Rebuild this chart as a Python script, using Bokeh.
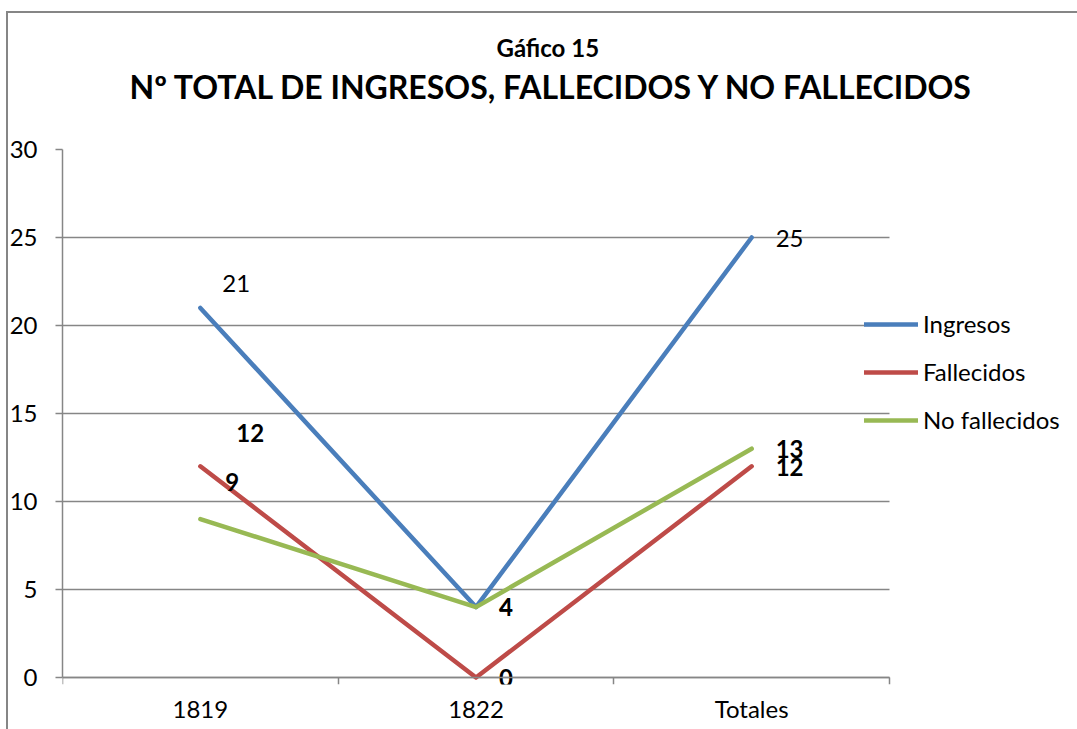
from bokeh.plotting import figure
from bokeh.models import (Range1d, LinearAxis, FixedTicker, ColumnDataSource, Legend,
                          LegendItem, Title)
from bokeh.core.properties import value
from bokeh.embed import file_html
from bokeh.resources import INLINE

# ---- data ----
categories = ["1819", "1822", "Totales"]
ingresos = [21, 4, 25]
fallecidos = [12, 0, 12]
no_fallecidos = [9, 4, 13]
series_names = ["Ingresos", "Fallecidos", "No fallecidos"]
y_ticks = [0, 5, 10, 15, 20, 25, 30]
y_max = 30
subtitle = "Gáfico 15"
main_title = "Nº TOTAL DE INGRESOS, FALLECIDOS Y NO FALLECIDOS"

# label offsets (styling, in px)
ing_dx = [22, 23, 24]
ing_dy = [-24, 0, 1]
fal_dx = [36, 23, 24]
fal_dy = [-33, 0, 1]
nof_dx = [25, 23, 24]
nof_dy = [-37, 0, 0]

FONT = "Lato"
GRAY = "#868686"
colors = ["#4A7EBB", "#BE4B48", "#98B954"]

# layout (pixels)
W, H = 1077, 729
AX_LEFT, AX_RIGHT, AX_TOP, AX_BOTTOM = 62, 889, 149, 677
BOTTOM_BORDER = 45

# category slots on a numeric axis: centre of slot i is i + 0.5
n = len(categories)
xs = [i + 0.5 for i in range(n)]
edges = list(range(n + 1))
# the drawing area runs on to the right edge (room for the legend) and a little
# below zero (room for the "0" label); the axes themselves stop at 0..n and 0..y_max
x_end = n * (W - AX_LEFT) / (AX_RIGHT - AX_LEFT)
px_per_unit = (AX_BOTTOM - AX_TOP) / y_max
y_start = -((H - BOTTOM_BORDER) - AX_BOTTOM) / px_per_unit

p = figure(width=W, height=H, output_backend="svg", toolbar_location=None,
           x_range=Range1d(0, x_end), y_range=Range1d(y_start, y_max),
           x_axis_location=None, y_axis_location=None,
           min_border_left=AX_LEFT, min_border_right=0, min_border_top=AX_TOP,
           min_border_bottom=BOTTOM_BORDER)
p.outline_line_color = None
p.background_fill_color = "white"
p.border_fill_alpha = 0
p.styles = {"box-shadow": f"inset 6px 11px 0 0 white, inset 8px 13px 0 0 {GRAY}",
            "background-color": "white"}
p.xgrid.visible = False

# x axis line + slot-boundary ticks, drawn at y = 0
x_line_axis = LinearAxis(ticker=FixedTicker(ticks=edges, minor_ticks=[]), bounds=(0, n),
                         fixed_location=0,
                         major_tick_in=0, major_tick_out=7, minor_tick_out=0,
                         axis_line_color=GRAY, axis_line_width=1.5,
                         major_tick_line_color=GRAY, major_tick_line_width=1.5,
                         major_label_standoff=0, major_label_text_font_size="0px",
                         major_label_text_color=None)
p.add_layout(x_line_axis, "below")

# category names under the slots
x_label_axis = LinearAxis(ticker=FixedTicker(ticks=xs, minor_ticks=[]),
                          major_label_overrides={x: c for x, c in zip(xs, categories)},
                          axis_line_color=None, major_tick_line_color=None,
                          major_tick_in=0, major_tick_out=0, minor_tick_out=0,
                          major_label_standoff=9,
                          major_label_text_font=FONT, major_label_text_font_size="24px",
                          major_label_text_color="black")
p.add_layout(x_label_axis, "below")

y_axis = LinearAxis(ticker=FixedTicker(ticks=y_ticks, minor_ticks=[]), bounds=(0, y_max),
                    major_tick_in=0, major_tick_out=7, minor_tick_out=0,
                    axis_line_color=GRAY, axis_line_width=1.5,
                    major_tick_line_color=GRAY, major_tick_line_width=1.5,
                    major_label_standoff=18,
                    major_label_text_font=FONT, major_label_text_font_size="24px",
                    major_label_text_color="black")
p.add_layout(y_axis, "left")

# horizontal grid lines limited to the category slots
grid_done = False
try:
    p.ygrid.ticker = FixedTicker(ticks=y_ticks)
    p.ygrid.grid_line_color = GRAY
    p.ygrid.grid_line_width = 1.5
    p.ygrid.cross_bounds = (0, n)
    grid_done = True
except Exception:
    grid_done = False
if not grid_done:
    p.ygrid.visible = False
    p.segment(x0=[0] * len(y_ticks), x1=[n] * len(y_ticks), y0=y_ticks, y1=y_ticks,
              line_color=GRAY, line_width=1.5, level="underlay")

# lines
all_series = [ingresos, fallecidos, no_fallecidos]
renderers = []
for vals, col in zip(all_series, colors):
    r = p.line(x=xs, y=vals, line_color=col, line_width=4.5,
               line_join="round", line_cap="round")
    renderers.append(r)

# data labels
def add_labels(vals, dx, dy, style):
    src = ColumnDataSource(dict(x=xs, y=vals, t=[str(v) for v in vals], dx=dx, dy=dy))
    p.text(x="x", y="y", text="t", x_offset="dx", y_offset="dy", source=src,
           text_font=value(FONT), text_font_size="24px", text_font_style=style,
           text_align="left", text_baseline="middle", text_color="black")

add_labels(ingresos, ing_dx, ing_dy, "normal")
add_labels(fallecidos, fal_dx, fal_dy, "bold")
add_labels(no_fallecidos, nof_dx, nof_dy, "bold")

# legend (location: left / bottom edge measured from the drawing area's bottom-left)
legend_bottom = 434
legend = Legend(items=[LegendItem(label=nm, renderers=[r]) for nm, r in zip(series_names, renderers)],
                location=(864 - AX_LEFT, (H - BOTTOM_BORDER) - legend_bottom),
                orientation="vertical",
                glyph_width=54, glyph_height=24, label_height=24, spacing=19,
                padding=0, margin=0, label_standoff=5,
                border_line_color=None, background_fill_alpha=0,
                label_text_font=FONT, label_text_font_size="24px", label_text_color="black")
p.add_layout(legend, "center")

# titles (first added sits nearest the plot)
p.add_layout(Title(text=main_title, align="left", offset=67, standoff=88,
                   text_font=FONT, text_font_size="32px", text_font_style="bold",
                   text_color="black"), "above")
p.add_layout(Title(text=subtitle, align="left", offset=434, standoff=-83,
                   text_font=FONT, text_font_size="24px", text_font_style="bold",
                   text_color="black"), "above")

open("out.html", "w").write(file_html(p, INLINE))
